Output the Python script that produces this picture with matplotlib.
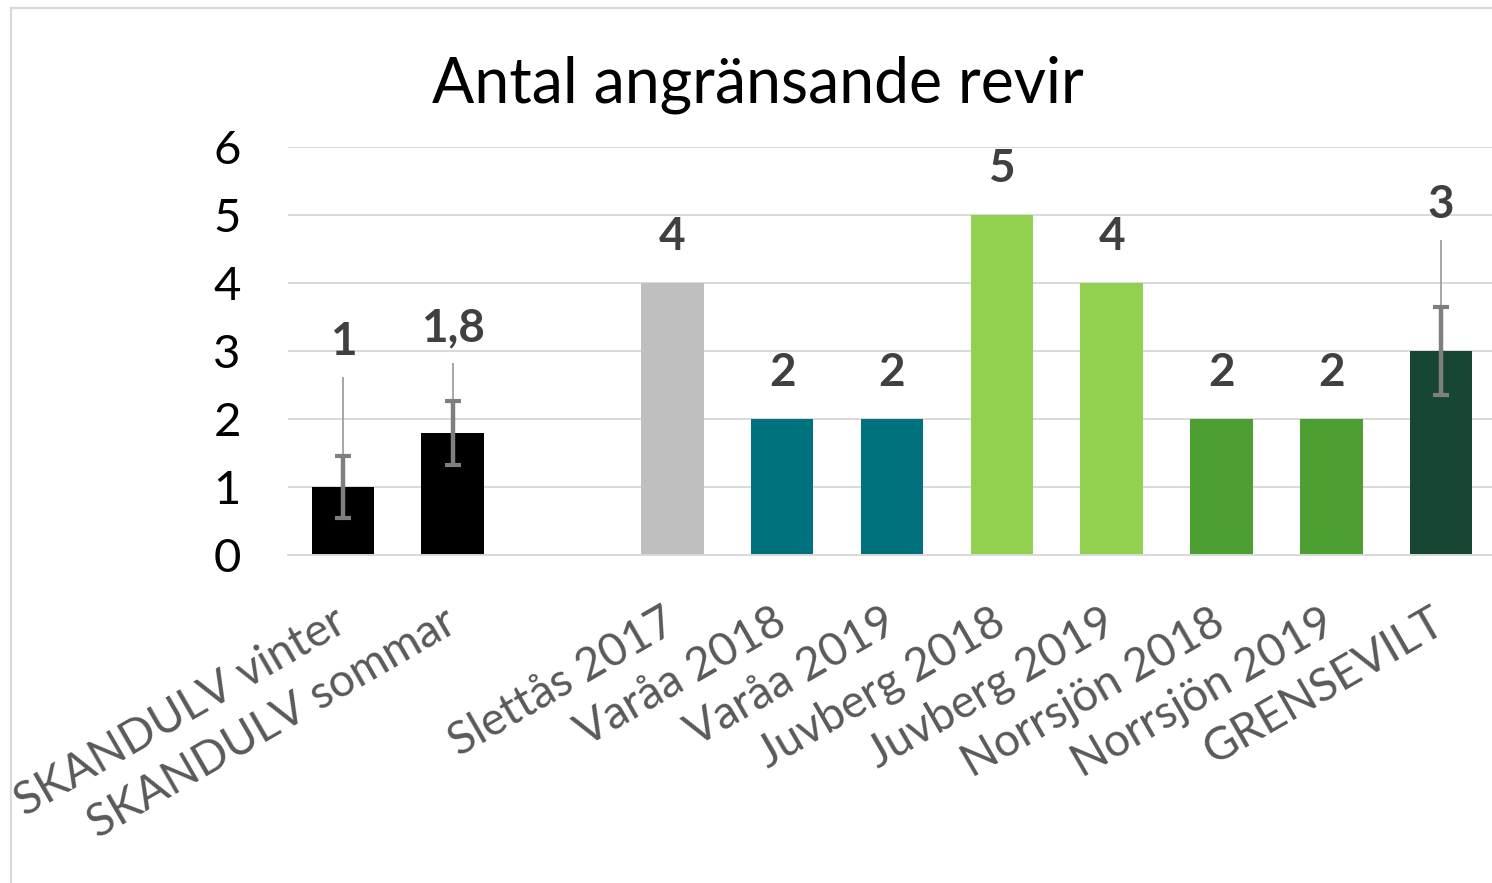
import numpy as np
import matplotlib
matplotlib.use("Agg")
import matplotlib.pyplot as plt
from matplotlib.lines import Line2D

plt.rcParams['font.family'] = ['Lato', 'DejaVu Sans']

# ---- data ----
categories = ["SKANDULV vinter", "SKANDULV sommar", "", "Slettås 2017", "Varåa 2018",
              "Varåa 2019", "Juvberg 2018", "Juvberg 2019", "Norrsjön 2018",
              "Norrsjön 2019", "GRENSEVILT"]
values = [1.0, 1.8, np.nan, 4, 2, 2, 5, 4, 2, 2, 3]
sd = [0.46, 0.47, np.nan, np.nan, np.nan, np.nan, np.nan, np.nan, np.nan, np.nan, 0.65]
range_max = [2.62, 2.82, np.nan, np.nan, np.nan, np.nan, np.nan, np.nan, np.nan, np.nan, 4.63]
colors = ["#000000", "#000000", "#FFFFFF", "#BFBFBF", "#00727D", "#00727D",
          "#92D050", "#92D050", "#4E9F32", "#4E9F32", "#174733"]
title = "Antal angränsande revir"
yticks = [0, 1, 2, 3, 4, 5, 6]

W, H = 1492, 883
fig = plt.figure(figsize=(W / 100, H / 100), dpi=100)
ax = fig.add_axes([288 / W, 328 / H, (1496 - 288) / W, (736 - 328) / H])

x = np.arange(len(categories))
vals = np.array(values, dtype=float)
ax.bar(x, vals, width=0.57, color=colors, zorder=2)

sd_a = np.array(sd, dtype=float)
rm_a = np.array(range_max, dtype=float)
has_err = ~np.isnan(sd_a)
# thin range lines
ax.vlines(x[has_err], vals[has_err], rm_a[has_err], color="#A6A6A6", lw=1.4, zorder=3)
# thick error bars
ax.errorbar(x[has_err], vals[has_err], yerr=sd_a[has_err], fmt='none',
            ecolor="#7F7F7F", elinewidth=3.2, capsize=6, capthick=3, zorder=4)

# data labels
for xi, v, r in zip(x, vals, rm_a):
    if np.isnan(v):
        continue
    lab = f"{v:g}".replace('.', ',')
    if np.isnan(r):
        ax.annotate(lab, (xi, v), xytext=(0, 46), textcoords='offset pixels',
                    ha='center', va='center', fontsize=33, fontweight='bold',
                    color="#404040", zorder=5)
    else:
        ax.annotate(lab, (xi, r), xytext=(0, 35), textcoords='offset pixels',
                    ha='center', va='center', fontsize=33, fontweight='bold',
                    color="#404040", zorder=5)

ax.set_xlim(-0.5, len(categories) - 0.5)
ax.set_ylim(0, 6)
ax.set_yticks(yticks)
ax.set_yticklabels([str(t) for t in yticks], fontsize=34, color="#000000")
ax.set_xticks(x)
ax.set_xticklabels(categories, rotation=30, ha='right', va='center',
                   rotation_mode='anchor', fontsize=33, color="#595959")
ax.tick_params(axis='y', length=0, pad=34)
ax.tick_params(axis='x', length=0, pad=46)
ax.grid(axis='y', color="#D9D9D9", lw=1.4, zorder=0)
ax.set_axisbelow(True)
for s in ['top', 'right', 'left']:
    ax.spines[s].set_visible(False)
ax.spines['bottom'].set_color("#D9D9D9")
ax.spines['bottom'].set_linewidth(1.4)

fig.text(758 / W, 1 - 103 / H, title, ha='center', va='baseline', fontsize=45, color="#000000")

# outer chart border (left and top visible)
fig.add_artist(Line2D([11 / W, 11 / W], [0, 1 - 8 / H], transform=fig.transFigure,
                      color="#D9D9D9", lw=1.6))
fig.add_artist(Line2D([11 / W, 1], [1 - 8 / H, 1 - 8 / H], transform=fig.transFigure,
                      color="#D9D9D9", lw=1.6))

fig.savefig("out.png", dpi=100, facecolor="white")
